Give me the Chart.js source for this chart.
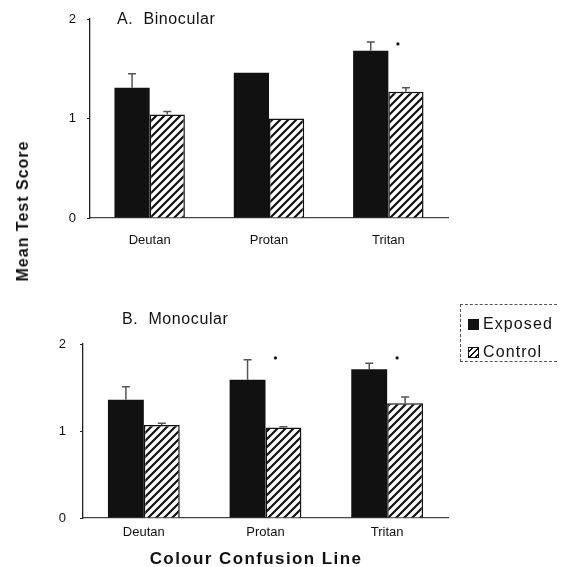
<!DOCTYPE html>
<html>
<head>
<meta charset="utf-8">
<script src="https://cdn.jsdelivr.net/npm/chart.js@4.4.1/dist/chart.umd.min.js"></script>
<style>
    body { margin: 0; background: #fff; font-family: "Liberation Sans", Arial, sans-serif; color: #111; }
    #wrap { position: relative; width: 564px; height: 567px; overflow: hidden; }
    .box { position: absolute; left: 0; width: 564px; }
    .txt { position: absolute; white-space: nowrap; line-height: 1; }
    .panel-title { font-size: 16px; letter-spacing: 0.6px; }
    #ytitle { left: 23px; top: 211px; font-size: 16px; font-weight: bold; letter-spacing: 1px;
        transform: translate(-50%, -50%) rotate(-90deg); }
    #xtitle { left: 256px; top: 558px; font-size: 17px; font-weight: bold; letter-spacing: 1.4px;
        transform: translate(-50%, -50%); }
    #legend { position: absolute; left: 460px; top: 304px; width: 96px; height: 56px;
        border: 1px dashed #555; border-right: none; }
    .item { position: absolute; left: 7px; font-size: 16px; letter-spacing: 1.1px; line-height: 1; }
    .sw { display: inline-block; width: 11px; height: 11px; margin-right: 4px; vertical-align: -1px; box-sizing: border-box; }
    .sw.exp { background: #111; }
    .sw.ctl { border: 1.5px solid #111;
        background: repeating-linear-gradient(135deg, #fff 0 1.5px, #111 1.5px 3px, #fff 3px 4.5px); }
</style>
</head>
<body>
<div id="wrap">
    <div class="box" style="top:0;height:265px"><canvas id="chart-binocular" width="564" height="265"></canvas></div>
    <div class="box" style="top:290px;height:277px"><canvas id="chart-monocular" width="564" height="277"></canvas></div>

    <div class="txt panel-title" style="left:117px;top:11px">A.&nbsp; Binocular</div>
    <div class="txt panel-title" style="left:122px;top:311px">B.&nbsp; Monocular</div>
    <div class="txt" id="ytitle">Mean Test Score</div>
    <div class="txt" id="xtitle">Colour Confusion Line</div>

    <div id="legend">
        <div class="item" style="top:11px"><span class="sw exp"></span>Exposed</div>
        <div class="item" style="top:39px"><span class="sw ctl"></span>Control</div>
    </div>
</div>

<script>
// categories / ticks
const categories = ['Deutan', 'Protan', 'Tritan'];
const yTicks = [0, 1, 2];

// A. Binocular
const binocExposed = [1.31, 1.46, 1.68];
const binocExposedErr = [1.45, null, 1.77];
const binocControl = [1.04, 1.00, 1.27];
const binocControlErr = [1.07, null, 1.31];
const binocSig = [null, null, 1.75];

// B. Monocular
const monocExposed = [1.36, 1.59, 1.71];
const monocExposedErr = [1.51, 1.82, 1.78];
const monocControl = [1.07, 1.04, 1.32];
const monocControlErr = [1.09, 1.05, 1.39];
const monocSig = [null, 1.84, 1.84];

function makeHatch(ctx) {
    const c = document.createElement('canvas');
    c.width = 8; c.height = 8;
    const g = c.getContext('2d');
    g.fillStyle = '#fff';
    g.fillRect(0, 0, 8, 8);
    g.strokeStyle = '#111';
    g.lineWidth = 2.2;
    g.beginPath();
    g.moveTo(-1, 9); g.lineTo(9, -1);
    g.moveTo(-3, 3); g.lineTo(3, -3);
    g.moveTo(5, 11); g.lineTo(11, 5);
    g.stroke();
    return ctx.createPattern(c, 'repeat');
}

// error bars + significance dots
const extrasPlugin = {
    id: 'extras',
    afterDatasetsDraw(chart) {
        const ctx = chart.ctx;
        const yScale = chart.scales.y;
        ctx.save();
        chart.data.datasets.forEach((ds, i) => {
            const meta = chart.getDatasetMeta(i);
            meta.data.forEach((bar, j) => {
                const top = ds.errTop ? ds.errTop[j] : null;
                if (top == null) return;
                const yTop = yScale.getPixelForValue(top);
                ctx.strokeStyle = '#555';
                ctx.lineWidth = 1.5;
                ctx.beginPath();
                ctx.moveTo(bar.x, bar.y);
                ctx.lineTo(bar.x, yTop);
                ctx.moveTo(bar.x - 4, yTop);
                ctx.lineTo(bar.x + 4, yTop);
                ctx.stroke();
            });
        });
        const sig = chart.options.plugins.extras.sig;
        const ctlMeta = chart.getDatasetMeta(1);
        sig.forEach((v, j) => {
            if (v == null) return;
            ctx.fillStyle = '#111';
            ctx.beginPath();
            ctx.arc(ctlMeta.data[j].x - 8, yScale.getPixelForValue(v), 1.6, 0, Math.PI * 2);
            ctx.fill();
        });
        ctx.restore();
    }
};

function buildChart(id, exposed, exposedErr, control, controlErr, sig, box) {
    const canvas = document.getElementById(id);
    const ctx = canvas.getContext('2d');
    return new Chart(ctx, {
        type: 'bar',
        data: {
            labels: categories,
            datasets: [
                {
                    label: 'Exposed',
                    data: exposed,
                    errTop: exposedErr,
                    backgroundColor: '#111',
                    borderColor: '#111',
                    borderWidth: 0,
                    categoryPercentage: 0.59,
                    barPercentage: 1
                },
                {
                    label: 'Control',
                    data: control,
                    errTop: controlErr,
                    backgroundColor: makeHatch(ctx),
                    borderColor: '#111',
                    borderWidth: 1.5,
                    categoryPercentage: 0.59,
                    barPercentage: 1
                }
            ]
        },
        options: {
            responsive: false,
            animation: false,
            layout: {
                padding: { left: 0, right: 116, top: box.top, bottom: 0 }
            },
            plugins: {
                legend: { display: false },
                tooltip: { enabled: false },
                extras: { sig: sig }
            },
            scales: {
                x: {
                    afterFit(scale) { scale.height = box.xHeight; },
                    grid: { display: false, tickLength: 0 },
                    border: { display: true, color: '#444', width: 1.2, dash: [7, 2] },
                    ticks: {
                        color: '#111',
                        padding: box.xPad,
                        font: { family: '"Liberation Sans", Arial, sans-serif', size: 13 }
                    }
                },
                y: {
                    min: 0,
                    max: 2,
                    afterFit(scale) { scale.width = box.yWidth; },
                    afterBuildTicks(scale) { scale.ticks = yTicks.map(v => ({ value: v })); },
                    grid: { drawOnChartArea: false, tickLength: 3, color: '#222' },
                    border: { display: true, color: '#222', width: 1.3, dash: [5, 1.5] },
                    ticks: {
                        color: '#111',
                        padding: box.yPad,
                        font: { family: '"Liberation Sans", Arial, sans-serif', size: 13 }
                    }
                }
            }
        },
        plugins: [extrasPlugin]
    });
}

buildChart('chart-binocular', binocExposed, binocExposedErr, binocControl, binocControlErr, binocSig,
    { top: 19, xHeight: 47, xPad: 15, yWidth: 90, yPad: 11 });
buildChart('chart-monocular', monocExposed, monocExposedErr, monocControl, monocControlErr, monocSig,
    { top: 54, xHeight: 49, xPad: 7, yWidth: 83, yPad: 14 });
</script>
</body>
</html>
